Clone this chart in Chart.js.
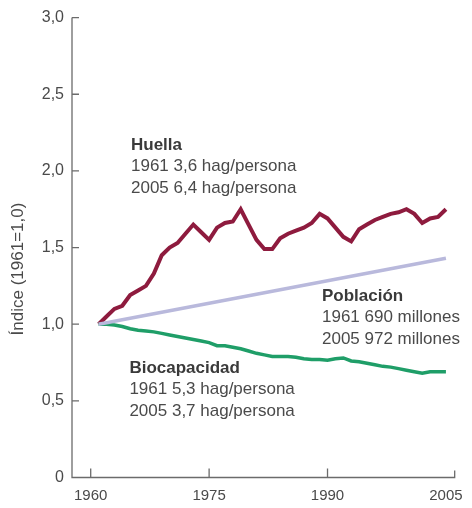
<!DOCTYPE html>
<html>
<head>
<meta charset="utf-8">
<script src="https://cdn.jsdelivr.net/npm/chart.js@4/dist/chart.umd.min.js"></script>
<style>
  html, body { margin: 0; padding: 0; background: #fff; }
  #wrap { width: 472px; height: 508px; }
</style>
</head>
<body>
<div id="wrap"><canvas id="chart" width="472" height="508"></canvas></div>
<script>
// Índice (1961 = 1,0) - huella, población y biocapacidad
const years = [1961, 1962, 1963, 1964, 1965, 1966, 1967, 1968, 1969, 1970,
               1971, 1972, 1973, 1974, 1975, 1976, 1977, 1978, 1979, 1980,
               1981, 1982, 1983, 1984, 1985, 1986, 1987, 1988, 1989, 1990,
               1991, 1992, 1993, 1994, 1995, 1996, 1997, 1998, 1999, 2000,
               2001, 2002, 2003, 2004, 2005];

const huella = [1.00, 1.05, 1.10, 1.12, 1.19, 1.22, 1.25, 1.33, 1.45, 1.50,
                1.53, 1.59, 1.65, 1.60, 1.55, 1.63, 1.66, 1.67, 1.75, 1.65,
                1.55, 1.49, 1.49, 1.56, 1.59, 1.61, 1.63, 1.66, 1.72, 1.69,
                1.63, 1.57, 1.54, 1.62, 1.65, 1.68, 1.70, 1.72, 1.73, 1.75,
                1.72, 1.66, 1.69, 1.70, 1.75];

const biocapacidad = [1.00, 1.00, 0.995, 0.985, 0.97, 0.96, 0.955, 0.95, 0.94, 0.93,
                      0.92, 0.91, 0.90, 0.89, 0.88, 0.86, 0.86, 0.85, 0.84, 0.825,
                      0.81, 0.80, 0.79, 0.79, 0.79, 0.785, 0.775, 0.77, 0.77, 0.765,
                      0.775, 0.78, 0.76, 0.755, 0.745, 0.735, 0.725, 0.72, 0.71, 0.70,
                      0.69, 0.68, 0.69, 0.69, 0.69];

const poblacionYears = [1961, 2005];
const poblacion = [1.00, 1.43];

const xTicks = [1960, 1975, 1990, 2005];
const yTicks = [0, 0.5, 1.0, 1.5, 2.0, 2.5, 3.0];
const yTitle = 'Índice (1961=1,0)';

// text blocks: [x (year), y (index), bold title, line 1, line 2]
const notes = [
    [1965.1, 2.17, 'Huella', '1961 3,6 hag/persona', '2005 6,4 hag/persona'],
    [1989.3, 1.18, 'Población', '1961 690 millones', '2005 972 millones'],
    [1964.9, 0.71, 'Biocapacidad', '1961 5,3 hag/persona', '2005 3,7 hag/persona']
];

const FONT = 'Arial, "Liberation Sans", Helvetica, sans-serif';
const AXIS = '#6b6b6b';
const TEXT = '#4a4a4a';

const toPoints = (xs, ys) => xs.map((x, i) => ({ x: x, y: ys[i] }));

// axis lines with inward ticks, y title and the text blocks
const extras = {
    id: 'extras',
    afterDraw(chart) {
        const ctx = chart.ctx;
        const xs = chart.scales.x;
        const ys = chart.scales.y;
        const area = chart.chartArea;
        ctx.save();
        ctx.strokeStyle = AXIS;
        ctx.lineWidth = 1.3;
        ctx.beginPath();
        ctx.moveTo(area.left, area.top);
        ctx.lineTo(area.left, area.bottom);
        ctx.lineTo(area.right, area.bottom);
        ctx.lineTo(area.right, area.bottom - 7);
        yTicks.forEach(v => {
            const py = ys.getPixelForValue(v);
            ctx.moveTo(area.left, py);
            ctx.lineTo(area.left + 7, py);
        });
        xTicks.slice(0, 3).forEach(v => {
            const px = xs.getPixelForValue(v);
            ctx.moveTo(px, area.bottom);
            ctx.lineTo(px, area.bottom - 9);
        });
        ctx.stroke();

        // rotated y title
        ctx.save();
        ctx.translate(18, ys.getPixelForValue(1.36));
        ctx.rotate(-Math.PI / 2);
        ctx.textAlign = 'center';
        ctx.textBaseline = 'middle';
        ctx.fillStyle = TEXT;
        ctx.font = '17px ' + FONT;
        ctx.fillText(yTitle, 0, 0);
        ctx.restore();

        ctx.textBaseline = 'middle';
        ctx.textAlign = 'left';
        notes.forEach(n => {
            const px = xs.getPixelForValue(n[0]);
            const py = ys.getPixelForValue(n[1]);
            ctx.fillStyle = '#3a3a3a';
            ctx.font = 'bold 17px ' + FONT;
            ctx.fillText(n[2], px, py);
            ctx.fillStyle = TEXT;
            ctx.font = '17px ' + FONT;
            ctx.fillText(n[3], px, py + 21);
            ctx.fillText(n[4], px, py + 43);
        });
        ctx.restore();
    }
};

new Chart(document.getElementById('chart').getContext('2d'), {
    type: 'line',
    data: {
        datasets: [{
            label: 'Población',
            data: toPoints(poblacionYears, poblacion),
            borderColor: '#b9b9dc',
            borderWidth: 3.5,
            pointRadius: 0,
            tension: 0
        }, {
            label: 'Biocapacidad',
            data: toPoints(years, biocapacidad),
            borderColor: '#1f9e68',
            borderWidth: 3.5,
            pointRadius: 0,
            tension: 0
        }, {
            label: 'Huella',
            data: toPoints(years, huella),
            borderColor: '#8e1b3e',
            borderWidth: 4,
            pointRadius: 0,
            tension: 0
        }]
    },
    options: {
        responsive: false,
        animation: false,
        layout: { padding: { left: 0, right: 17, top: 15, bottom: 0 } },
        plugins: {
            legend: { display: false },
            tooltip: { enabled: false }
        },
        scales: {
            x: {
                type: 'linear',
                min: 1957.63,
                max: 2006.11,
                afterBuildTicks: s => { s.ticks = xTicks.map(v => ({ value: v })); },
                afterFit: s => { s.height = 30.5; },
                border: { display: false },
                grid: { display: false, drawTicks: false },
                ticks: {
                    padding: 9,
                    color: TEXT,
                    font: { family: FONT, size: 15 },
                    maxRotation: 0,
                    callback: v => String(v)
                }
            },
            y: {
                min: 0,
                max: 3,
                afterBuildTicks: s => { s.ticks = yTicks.map(v => ({ value: v })); },
                afterFit: s => { s.width = 72; },
                border: { display: false },
                grid: { display: false, drawTicks: false },
                ticks: {
                    padding: 8,
                    color: TEXT,
                    font: { family: FONT, size: 16 },
                    callback: v => v === 0 ? '0' : v.toFixed(1).replace('.', ',')
                }
            }
        }
    },
    plugins: [extras]
});
</script>
</body>
</html>
